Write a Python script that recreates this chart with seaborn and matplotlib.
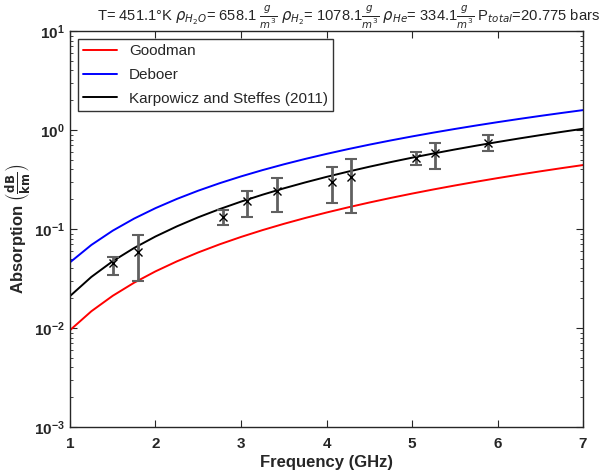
import matplotlib
matplotlib.use("Agg")
import matplotlib.pyplot as plt
import seaborn as sns
import pandas as pd
import numpy as np

# Model curves
freq = [1.0, 1.25, 1.5, 1.75, 2.0, 2.25, 2.5, 2.75, 3.0, 3.25, 3.5, 3.75, 4.0,
        4.25, 4.5, 4.75, 5.0, 5.25, 5.5, 5.75, 6.0, 6.25, 6.5, 6.75, 7.0]
goodman = [0.0095, 0.01476, 0.02115, 0.02867, 0.03732, 0.04709, 0.05798, 0.06998,
           0.08309, 0.09733, 0.11265, 0.12909, 0.14663, 0.16525, 0.18500, 0.20581,
           0.22776, 0.25080, 0.27491, 0.30014, 0.32649, 0.35388, 0.38233, 0.41189, 0.44251]
deboer = [0.0460, 0.0690, 0.0962, 0.1274, 0.1624, 0.2012, 0.2438, 0.2900, 0.3397,
          0.3930, 0.4498, 0.5100, 0.5735, 0.6404, 0.7107, 0.7840, 0.8608, 0.9407,
          1.0238, 1.1101, 1.1996, 1.2920, 1.3877, 1.4862, 1.5880]
karpowicz = [0.0210, 0.0328, 0.0473, 0.0643, 0.0840, 0.1063, 0.1313, 0.1588, 0.1890,
             0.2218, 0.2573, 0.2953, 0.3360, 0.3793, 0.4253, 0.4738, 0.5250, 0.5788,
             0.6353, 0.6943, 0.7560, 0.8203, 0.8873, 0.9568, 1.0290]

# Measurements
meas_freq = [1.50, 1.80, 2.79, 3.07, 3.42, 4.07, 4.29, 5.05, 5.27, 5.89]
meas_val = [0.0457, 0.059, 0.133, 0.193, 0.242, 0.301, 0.333, 0.518, 0.582, 0.745]
meas_hi = [0.0525, 0.087, 0.155, 0.242, 0.325, 0.420, 0.506, 0.604, 0.745, 0.889]
meas_lo = [0.0343, 0.030, 0.110, 0.131, 0.150, 0.184, 0.144, 0.443, 0.401, 0.618]

x_ticks = [1, 2, 3, 4, 5, 6, 7]

sns.set_style("ticks")
plt.rcParams['font.family'] = ['Liberation Sans', 'DejaVu Sans']
plt.rcParams['mathtext.fontset'] = 'dejavusans'

fig = plt.figure(figsize=(6.07, 4.74), dpi=100)
ax = fig.add_axes([0.1153, 0.0992, 0.8452, 0.8354])

df = pd.DataFrame({
    "Frequency": freq * 3,
    "Absorption": goodman + deboer + karpowicz,
    "Model": ["Goodman"] * len(freq) + ["Deboer"] * len(freq)
             + ["Karpowicz and Steffes (2011)"] * len(freq),
})
sns.lineplot(data=df, x="Frequency", y="Absorption", hue="Model",
             palette={"Goodman": "#ff0000", "Deboer": "#0000ff",
                      "Karpowicz and Steffes (2011)": "#000000"},
             linewidth=1.4, ax=ax, legend=True)

mv = np.array(meas_val)
yerr = [mv - np.array(meas_lo), np.array(meas_hi) - mv]
ax.errorbar(meas_freq, meas_val, yerr=yerr, fmt='none', ecolor='#606060',
            elinewidth=2, capsize=4, capthick=1.5, zorder=3)
ax.plot(meas_freq, meas_val, 'x', color='black', markersize=6, mew=1.0, zorder=4)

ax.set_yscale('log')
ax.set_xlim(1, 7)
ax.set_ylim(1e-3, 10)
ax.set_xticks(x_ticks)
ax.set_xticklabels([str(t) for t in x_ticks], fontweight='bold', fontsize=11)
for lab in ax.get_yticklabels():
    lab.set_fontweight('bold')
ax.tick_params(axis='both', which='both', direction='in', top=True, right=True)
ax.tick_params(axis='both', which='major', length=5, labelsize=11)
ax.tick_params(axis='x', which='major', pad=7)
ax.tick_params(axis='y', which='minor', length=2.5)
for s in ax.spines.values():
    s.set_linewidth(1.0)

ax.set_xlabel("Frequency (GHz)", fontweight='bold', fontsize=12, labelpad=3)
ax.set_ylabel(r"Absorption $\left(\mathbf{\frac{dB}{km}}\right)$", fontweight='bold',
              fontsize=12, labelpad=1)

ax.set_title(r"T= 451.1°K $\rho_{H_2O}$= 658.1 $\frac{g}{m^3}$ $\rho_{H_2}$= 1078.1$\frac{g}{m^3}$ "
             r"$\rho_{He}$= 334.1$\frac{g}{m^3}$ P$_{total}$=20.775 bars",
             fontsize=10.6, pad=6, x=0.542)

leg = ax.legend(loc='upper left', fontsize=11, frameon=True, fancybox=False,
                edgecolor='black', handlelength=2.2, borderpad=0.35, labelspacing=0.65,
                bbox_to_anchor=(0.0, 1.0), borderaxespad=0.5)
leg.get_frame().set_linewidth(1.0)

fig.savefig("out.png", dpi=100)
